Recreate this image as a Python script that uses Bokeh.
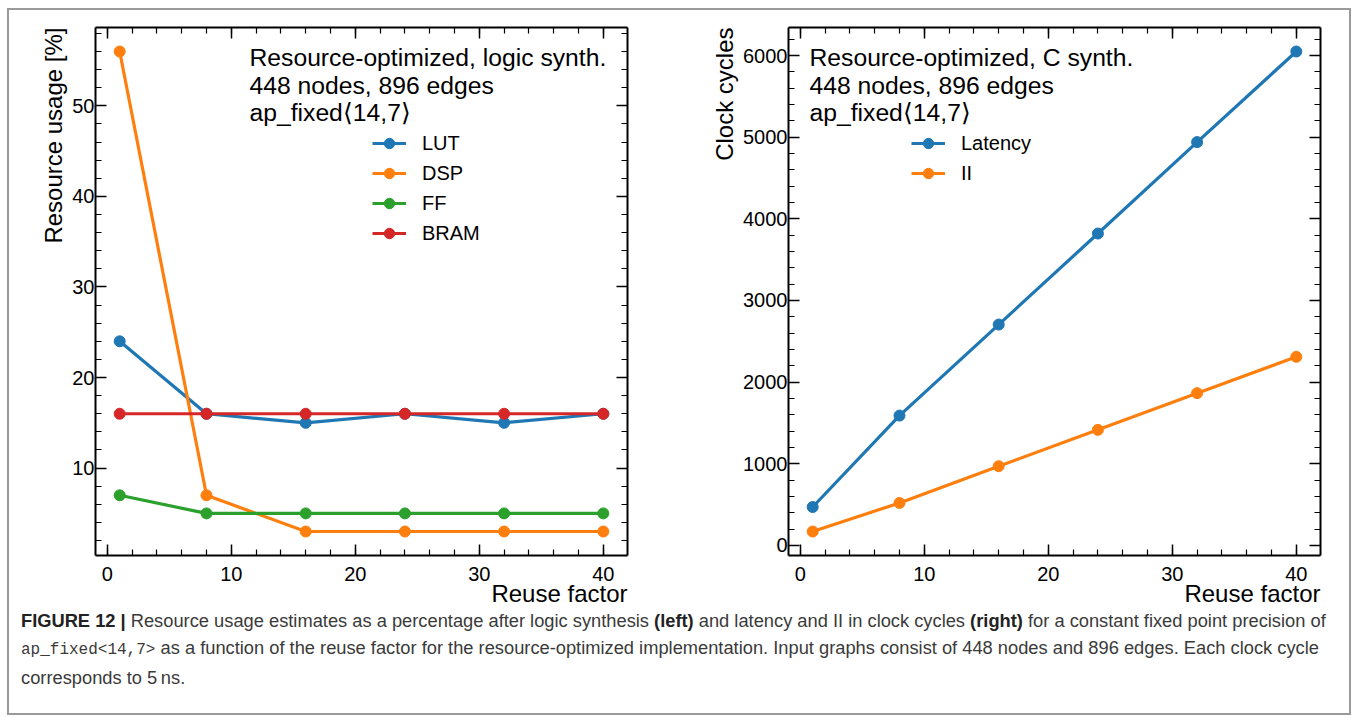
from bokeh.plotting import figure
from bokeh.models import (LinearAxis, Legend, LegendItem, Label, Div, Range1d, Title,
                          SingleIntervalTicker, ColumnDataSource)
from bokeh.layouts import row, column
from bokeh.embed import file_html
from bokeh.resources import INLINE

# ---------------- data ----------------
reuse_factor = [1, 8, 16, 24, 32, 40]

lut_pct = [24, 16, 15, 16, 15, 16]
dsp_pct = [56, 7, 3, 3, 3, 3]
ff_pct = [7, 5, 5, 5, 5, 5]
bram_pct = [16, 16, 16, 16, 16, 16]

latency_cycles = [470, 1590, 2705, 3820, 4940, 6050]
ii_cycles = [170, 520, 970, 1415, 1865, 2310]

left_names = ["LUT", "DSP", "FF", "BRAM"]
right_names = ["Latency", "II"]

left_text = ["Resource-optimized, logic synth.", "448 nodes, 896 edges", "ap_fixed\u27e814,7\u27e9"]
right_text = ["Resource-optimized, C synth.", "448 nodes, 896 edges", "ap_fixed\u27e814,7\u27e9"]

x_label = "Reuse factor"
left_y_label = "Resource usage [%]"
right_y_label = "Clock cycles"

# ---------------- styling ----------------
COLORS = ["#1f77b4", "#ff7f0e", "#2ca02c", "#d62728"]
FONT = "Liberation Sans"
FRAME_W, FRAME_H = 532, 528


def padded(lo, hi, frac=0.05):
    d = (hi - lo) * frac
    return lo - d, hi + d


def add_axis(p, side, interval, show_labels=True):
    ax = LinearAxis(ticker=SingleIntervalTicker(interval=interval, num_minor_ticks=5))
    ax.axis_line_width = 2
    ax.axis_line_color = "black"
    ax.major_tick_in = 11
    ax.major_tick_out = 0
    ax.minor_tick_in = 6
    ax.minor_tick_out = 0
    ax.major_tick_line_width = 1.5
    ax.minor_tick_line_width = 1.2
    ax.major_tick_line_color = "black"
    ax.minor_tick_line_color = "black"
    if show_labels:
        ax.major_label_text_font = FONT
        ax.major_label_text_font_size = "20px"
        ax.major_label_text_color = "black"
        ax.major_label_standoff = 1 if side in ("left", "right") else 11
    else:
        ax.major_label_text_font_size = "0px"
        ax.major_label_text_color = None
        ax.major_label_text_alpha = 0
        ax.major_label_standoff = 0
    p.add_layout(ax, side)
    return ax


def axis_title(text, standoff):
    # mplhep-style axis title: placed at the far end of the axis
    return Title(text=text, align="right", text_font=FONT, text_font_size="24px",
                 text_font_style="normal", text_color="black", standoff=standoff)


def make_panel(series, names, y_interval, y_label, text_lines, text_x,
               legend_loc, border_left, border_right):
    all_y = [v for s in series for v in s]
    x0, x1 = padded(min(reuse_factor), max(reuse_factor))
    y0, y1 = padded(min(all_y), max(all_y))
    p = figure(frame_width=FRAME_W, frame_height=FRAME_H,
               x_range=Range1d(x0, x1), y_range=Range1d(y0, y1),
               x_axis_type=None, y_axis_type=None,
               min_border_left=border_left, min_border_right=border_right,
               min_border_top=17, min_border_bottom=68,
               output_backend="svg", toolbar_location=None)
    p.outline_line_color = None
    p.background_fill_color = "white"
    p.border_fill_color = "white"

    add_axis(p, "below", 10)
    add_axis(p, "left", y_interval)
    add_axis(p, "above", 10, show_labels=False)
    add_axis(p, "right", y_interval, show_labels=False)

    p.add_layout(axis_title(x_label, -12), "below")
    p.add_layout(axis_title(y_label, 5), "left")

    items = []
    for vals, name, col in zip(series, names, COLORS):
        src = ColumnDataSource(dict(x=reuse_factor, y=vals))
        lr = p.line("x", "y", source=src, line_color=col, line_width=3.2)
        sr = p.scatter("x", "y", source=src, size=11, fill_color=col, line_color=col)
        items.append(LegendItem(label=name, renderers=[lr, sr]))

    leg = Legend(items=items, location=legend_loc, glyph_width=34, glyph_height=26,
                 label_height=26, spacing=4, padding=0, margin=0,
                 border_line_color=None, background_fill_alpha=0,
                 label_text_font=FONT, label_text_font_size="20px",
                 label_text_color="black", label_standoff=16)
    p.add_layout(leg)

    for i, t in enumerate(text_lines):
        p.add_layout(Label(x=text_x, y=FRAME_H - 30 - 27.5 * i,
                           x_units="screen", y_units="screen", text=t,
                           text_font=FONT, text_font_size="24.7px",
                           text_baseline="middle", text_color="black"))
    return p


p_left = make_panel([lut_pct, dsp_pct, ff_pct, bram_pct], left_names, 10,
                    left_y_label, left_text, 154, (277, 309), 86, 70)
p_right = make_panel([latency_cycles, ii_cycles], right_names, 1000,
                     right_y_label, right_text, 21, (123, 369), 91, 29)

caption_html = (
    '<div style="font-family:\'Liberation Sans\',Arial,sans-serif;font-size:18.3px;'
    'line-height:27px;color:#3a3a3a;white-space:nowrap;">'
    '<b style="color:#222;">FIGURE 12 |</b> Resource usage estimates as a percentage after logic synthesis '
    '<b style="color:#222;">(left)</b> and latency and II in clock cycles <b style="color:#222;">(right)</b> '
    'for a constant fixed point precision of<br>'
    '<span style="font-family:\'Liberation Mono\',monospace;font-size:16px;">ap_fixed&lt;14,7&gt;</span> as a function of the '
    'reuse factor for the resource-optimized implementation. Input graphs consist of 448 nodes and 896 edges. '
    'Each clock cycle<br>corresponds to 5&#8201;ns.</div>'
)
caption = Div(text=caption_html, width=1320, height=106, margin=(-16, 0, 0, 12))

layout = column(row(p_left, p_right), caption, margin=(8, 0, 0, 7),
                styles={"border": "2px solid #9a9a9a", "background-color": "white"})

open("out.html", "w").write(file_html(layout, INLINE))
